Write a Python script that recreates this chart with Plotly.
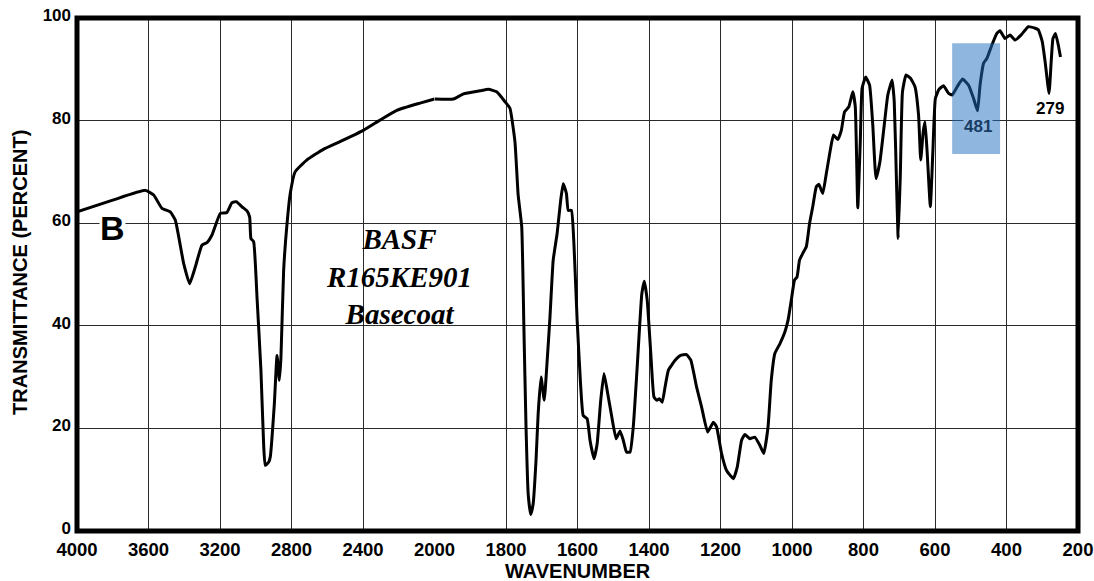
import plotly.graph_objects as go

# ---- data (wavenumber cm-1, % transmittance) ----
wavenumber = [
    4000, 3800, 3618, 3571, 3525, 3478, 3450, 3403, 3370, 3338, 3301, 3273, 3245,
    3198, 3161, 3133, 3109, 3077, 3049, 3034, 3027, 3012, 2993, 2971, 2956, 2947,
    2928, 2919, 2896, 2881, 2868, 2859, 2844, 2825, 2807, 2780, 2715, 2622, 2529,
    2398, 2305, 2211, 2081, 2000,
    1947, 1919, 1873, 1849, 1826, 1803, 1789, 1775, 1766, 1756, 1750, 1744, 1738,
    1731, 1724, 1716, 1710, 1702, 1693, 1686, 1677, 1668, 1657, 1647, 1640, 1631,
    1626, 1617, 1610, 1601, 1591, 1584, 1573, 1565, 1554, 1545, 1535, 1526, 1517,
    1504, 1492, 1481, 1472, 1463, 1453, 1444, 1433, 1420, 1413, 1405, 1395, 1386,
    1378, 1371, 1363, 1355, 1346, 1337, 1327, 1313, 1295, 1283, 1267, 1253, 1236,
    1220, 1211, 1197, 1183, 1164, 1153, 1141, 1132, 1118, 1104, 1090, 1079, 1067,
    1058, 1048, 1034, 1020, 1011, 1002, 993, 986, 979, 970, 960, 951, 942, 932,
    925, 914, 904, 893, 884, 872, 862, 853, 841, 830, 823, 816, 809, 804, 794, 783,
    774, 765, 754, 742, 732, 720, 714, 707, 703, 697, 691, 681, 668, 656, 646, 640,
    633, 628, 622, 613, 606, 599, 589, 576, 562, 552, 538, 523, 506, 492, 481, 474,
    464, 455, 441, 427, 418, 404, 390, 376, 359, 339, 320, 311, 300, 292, 281, 275,
    270, 263, 255, 249,
]
transmittance = [
    62.2, 64.5, 66.4, 65.5, 62.9, 62.2, 60.6, 52.1, 48.2, 51.5, 55.7, 56.2, 57.7,
    61.9, 62.1, 64.0, 64.2, 63.2, 62.4, 61.2, 57.0, 56.4, 45.6, 31.3, 17.0, 12.8,
    13.4, 14.4, 24.8, 34.2, 29.4, 33.9, 50.8, 59.9, 65.8, 70.0, 72.3, 74.4, 75.9,
    78.1, 80.1, 82.0, 83.4, 84.2,
    84.2, 85.2, 85.8, 86.1, 85.6, 83.7, 82.4, 75.9, 65.5, 59.3, 39.8, 20.3, 7.3,
    3.2, 5.3, 13.8, 22.9, 30.0, 25.5, 32.0, 41.7, 52.8, 58.0, 64.5, 67.7, 65.8,
    62.5, 62.5, 56.0, 41.1, 28.1, 22.5, 21.9, 17.7, 14.1, 17.0, 25.5, 30.7, 27.4,
    22.2, 18.0, 19.5, 17.7, 15.4, 15.4, 20.3, 32.0, 46.3, 48.7, 45.0, 34.6, 26.1,
    25.5, 25.8, 25.1, 28.1, 31.3, 32.3, 33.3, 34.2, 34.4, 33.3, 28.1, 24.2, 19.3,
    21.2, 20.3, 15.1, 11.8, 10.2, 12.5, 17.7, 18.8, 18.0, 18.3, 16.7, 15.1, 20.3,
    29.4, 34.6, 36.5, 38.8, 41.1, 45.0, 48.9, 49.5, 52.8, 54.1, 55.4, 59.9, 63.2, 67.1,
    67.6, 65.8, 69.7, 74.2, 77.2, 76.3, 78.1, 81.7, 82.7, 85.6, 82.7, 63.0, 75.9, 86.3, 88.5, 86.9,
    79.1, 68.7, 72.0, 79.1, 85.0, 87.9, 83.7, 66.1, 57.0, 69.4, 85.6, 88.9, 88.2, 86.6, 81.1, 72.3,
    77.8, 79.8, 73.9, 63.2, 73.9, 84.3, 86.1, 86.8, 85.3, 85.0, 86.6, 88.1, 86.9, 84.3, 81.9, 86.9,
    91.2, 92.1, 94.7, 97.0, 97.5, 96.0, 96.7, 95.7, 96.7, 98.3, 98.0, 97.7, 95.4, 91.5, 85.3, 91.5,
    96.0, 97.0, 94.7, 92.4,
]

y_ticks = [0, 20, 40, 60, 80, 100]
x_ticks_high = [4000, 3600, 3200, 2800, 2400]
x_ticks_low = [2000, 1800, 1600, 1400, 1200, 1000, 800, 600, 400, 200]
scale_break = 2000

sample_lines = ["BASF", "R165KE901", "Basecoat"]
peak_labels = ["481", "279"]
peak_positions = [480, 277]
peak_label_values = [78.9, 82.4]
highlight_x = [552, 418]
highlight_y = [73.5, 95.1]

# ---- figure ----
hi_x = [w for w in wavenumber if w >= scale_break]
hi_y = [t for w, t in zip(wavenumber, transmittance) if w >= scale_break]
lo_x = [w for w in wavenumber if w <= scale_break]
lo_y = [t for w, t in zip(wavenumber, transmittance) if w <= scale_break]

line_style = dict(color="black", width=3, shape="spline", smoothing=0.4)
fig = go.Figure()
fig.add_trace(go.Scatter(x=hi_x, y=hi_y, xaxis="x", yaxis="y", mode="lines",
                         line=line_style, showlegend=False, hoverinfo="skip"))
fig.add_trace(go.Scatter(x=lo_x, y=lo_y, xaxis="x2", yaxis="y", mode="lines",
                         line=line_style, showlegend=False, hoverinfo="skip"))

FONT = "Liberation Sans, Arial, sans-serif"
tickfont_x = dict(family=FONT, size=18.5, color="black", weight="bold")
tickfont_y = dict(family=FONT, size=17, color="black", weight="bold")
grid = dict(showgrid=True, gridcolor="#2a2a2a", gridwidth=1, zeroline=False,
            showline=False, ticks="", fixedrange=True, automargin=False)

fig.update_layout(
    width=1094, height=581,
    margin=dict(l=77, r=16, t=18, b=50),
    paper_bgcolor="white", plot_bgcolor="white",
    xaxis=dict(domain=[0, 5 / 14], range=[4000, 2000], tickvals=x_ticks_high,
               ticktext=[str(v) for v in x_ticks_high], tickfont=tickfont_x,
               anchor="y", ticklabelstandoff=5, **grid),
    xaxis2=dict(domain=[5 / 14, 1], range=[2000, 200], tickvals=x_ticks_low,
                ticktext=[str(v) for v in x_ticks_low], tickfont=tickfont_x,
                anchor="y", ticklabelstandoff=5, **grid),
    yaxis=dict(range=[0, 100], tickvals=y_ticks, ticktext=[str(v) for v in y_ticks],
               tickfont=tickfont_y, anchor="x", ticklabelstandoff=5,
               ticklabelshift=-3, **grid),
)

# plot frame
fig.add_shape(type="rect", xref="paper", yref="paper", x0=0, x1=1, y0=0, y1=1,
              line=dict(color="black", width=5), layer="above")

# highlight box around the 481 band
fig.add_shape(type="rect", xref="x2", yref="y", x0=highlight_x[0], x1=highlight_x[1],
              y0=highlight_y[0], y1=highlight_y[1], line=dict(width=0),
              fillcolor="rgba(30,110,190,0.5)", layer="above")

annotations = [
    dict(text="TRANSMITTANCE (PERCENT)", xref="paper", yref="paper",
         x=-0.057, y=0.505, textangle=-90, showarrow=False, xanchor="center", yanchor="middle",
         font=dict(family=FONT, size=20, color="black", weight="bold")),
    dict(text="WAVENUMBER", xref="paper", yref="paper", x=0.5, y=-0.078,
         showarrow=False, xanchor="center", yanchor="middle",
         font=dict(family=FONT, size=20, color="black", weight="bold")),
    dict(text="B", xref="x", yref="y", x=3799, y=59.0, showarrow=False,
         bgcolor="white", borderpad=0,
         font=dict(family=FONT, size=34, color="black", weight="bold")),
    dict(text="<br>".join(sample_lines), xref="x", yref="y", x=2199, y=49.6,
         showarrow=False, align="center",
         font=dict(family="Liberation Serif, Times New Roman, serif", size=29,
                   color="black", weight="bold", style="italic")),
    dict(text=peak_labels[0], xref="x2", yref="y", x=peak_positions[0], y=peak_label_values[0],
         showarrow=False, bgcolor="rgb(143,183,223)", borderpad=0,
         font=dict(family=FONT, size=17, color="rgb(25,60,100)", weight="bold")),
    dict(text=peak_labels[1], xref="x2", yref="y", x=peak_positions[1], y=peak_label_values[1],
         showarrow=False, bgcolor="white", borderpad=0,
         font=dict(family=FONT, size=17, color="black", weight="bold")),
]
fig.update_layout(annotations=annotations)

fig.write_html("out.html")
